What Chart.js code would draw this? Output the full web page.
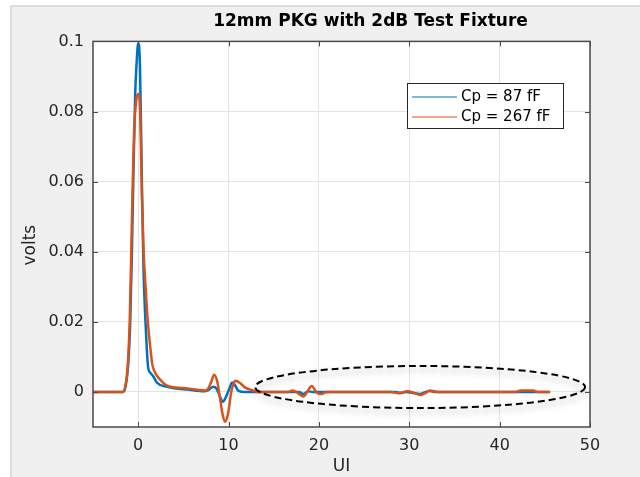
<!DOCTYPE html>
<html><head><meta charset="utf-8">
<script src="https://cdn.jsdelivr.net/npm/chart.js@4/dist/chart.umd.min.js"></script>
<style>html,body{margin:0;padding:0;background:#fff}#wrap{width:640px;height:477px}</style>
</head><body><div id="wrap"><canvas id="c" width="640" height="477"></canvas></div>
<script>
// ---- data ----
const seriesLabels = ['Cp = 87 fF', 'Cp = 267 fF'];

const xBlue = [-5, -1.7, -1.45, -1.1, -0.88, -0.7, -0.52, -0.33, -0.17, 0, 0.2, 0.41, 0.59, 0.77, 0.96, 1.1, 1.33, 1.66, 2.1, 3.2, 5.7, 7.3, 7.8, 8.3, 8.65, 9.0, 9.37, 9.7, 10.1, 10.4, 10.7, 11.1, 11.8, 17.8, 18.3, 18.8, 19.3, 28.5, 29.0, 29.6, 30.3, 31.2, 32.2, 33.0, 45.5];
const yBlue = [0, 0, 0.001, 0.008, 0.02, 0.039, 0.063, 0.085, 0.094, 0.0995, 0.093, 0.06, 0.035, 0.022, 0.012, 0.007, 0.0055, 0.0045, 0.0026, 0.0015, 0.0006, 0.0002, 0.0006, 0.0015, 0.001, -0.001, -0.0028, -0.0015, 0.001, 0.0027, 0.002, 0.0003, 0, 0, -0.0006, 0.0002, 0, 0, -0.0003, 0, -0.0002, -0.0006, 0.0003, 0, 0];

const xOrange = [-5, -1.7, -1.33, -1.1, -0.94, -0.77, -0.6, -0.44, -0.22, 0, 0.22, 0.41, 0.6, 0.77, 0.96, 1.1, 1.33, 1.55, 1.88, 2.43, 3.2, 5.0, 6.5, 7.4, 7.75, 8.1, 8.4, 8.75, 9.07, 9.35, 9.6, 9.96, 10.3, 10.6, 10.8, 11.3, 11.8, 12.6, 13.3, 16.6, 17.1, 17.5, 18.3, 18.7, 19.2, 19.8, 20.3, 20.8, 28.0, 28.8, 29.8, 30.5, 31.2, 31.8, 32.3, 33.2, 41.8, 42.3, 43.7, 44.2, 45.6];
const yOrange = [0, 0, 0.003, 0.01, 0.02, 0.04, 0.06, 0.075, 0.083, 0.085, 0.08, 0.056, 0.04, 0.032, 0.024, 0.019, 0.013, 0.008, 0.0055, 0.0035, 0.0018, 0.0011, 0.0006, 0.0004, 0.001, 0.003, 0.0049, 0.003, -0.002, -0.0065, -0.0085, -0.006, 0, 0.0027, 0.0032, 0.0025, 0.0013, 0.0005, 0, 0, 0.0004, 0, -0.0013, 0, 0.0017, -0.0003, -0.0006, 0, 0, -0.0004, 0.0002, -0.0002, -0.0009, -0.0003, 0.0004, 0, 0, 0.0004, 0.0004, 0, 0];

const xTicks = [0, 10, 20, 30, 40, 50];
const yTicks = [0, 0.02, 0.04, 0.06, 0.08, 0.1];
const yTickLabels = ['0', '0.02', '0.04', '0.06', '0.08', '0.1'];

// annotation ellipse (data units)
const ellipseCenter = {x: 31.2, y: 0.0014};
const ellipseRadius = {x: 18.25, y: 0.006};

// ---- styling ----
const FONT = "'DejaVu Sans', sans-serif";
const AX = '#262626';
const toPts = (xs, ys) => xs.map((x, i) => ({x, y: ys[i]}));

const bgPlugin = {
  id: 'bg',
  afterLayout(chart) {
    // shift title to the right like the reference
    if (chart.titleBlock) { chart.titleBlock.left += 29; chart.titleBlock.right += 29; }
    const ys = chart.scales.y;
    if (ys && !ys._shiftedTitle) {
      const orig = ys.drawTitle;
      ys.drawTitle = function () { const c = this.ctx; c.save(); c.translate(0, 11); orig.call(this); c.restore(); };
      ys._shiftedTitle = true;
    }
  },
  beforeDraw(chart) {
    const c = chart.ctx, a = chart.chartArea;
    c.save();
    c.fillStyle = '#ffffff';
    c.fillRect(0, 0, chart.width, chart.height);
    c.fillStyle = '#dcdcdc';
    c.fillRect(10, 5, chart.width - 10, chart.height - 5);
    c.fillStyle = '#f0f0f0';
    c.fillRect(12, 7, chart.width - 12, chart.height - 7);
    c.fillStyle = '#ffffff';
    c.fillRect(a.left, a.top, a.right - a.left, a.bottom - a.top);
    c.restore();
  }
};

const framePlugin = {
  id: 'frame',
  afterDatasetsDraw(chart) {
    const c = chart.ctx, a = chart.chartArea;
    const xs = chart.scales.x, ys = chart.scales.y;
    // ellipse annotation
    const cx = xs.getPixelForValue(ellipseCenter.x), cy = ys.getPixelForValue(ellipseCenter.y);
    const rx = xs.getPixelForValue(ellipseCenter.x + ellipseRadius.x) - cx;
    const ry = cy - ys.getPixelForValue(ellipseCenter.y + ellipseRadius.y);
    c.save();
    c.shadowColor = 'rgba(0,0,0,0.35)';
    c.shadowBlur = 7;
    c.shadowOffsetY = 4;
    c.setLineDash([7, 4]);
    c.lineWidth = 2;
    c.strokeStyle = '#000';
    c.beginPath();
    c.ellipse(cx, cy, rx, ry, 0, 0, Math.PI * 2);
    c.stroke();
    c.restore();
    // box + inward ticks
    c.save();
    c.strokeStyle = '#4a4a4a';
    c.lineWidth = 1.5;
    c.strokeRect(a.left, a.top, a.right - a.left, a.bottom - a.top);
    c.lineWidth = 1;
    c.beginPath();
    xTicks.forEach(v => {
      const p = Math.round(xs.getPixelForValue(v)) + 0.5;
      c.moveTo(p, a.bottom); c.lineTo(p, a.bottom - 5);
      c.moveTo(p, a.top); c.lineTo(p, a.top + 5);
    });
    yTicks.forEach(v => {
      const p = Math.round(ys.getPixelForValue(v)) + 0.5;
      c.moveTo(a.left, p); c.lineTo(a.left + 5, p);
      c.moveTo(a.right, p); c.lineTo(a.right - 5, p);
    });
    c.stroke();
    c.restore();
    // legend
    const lx = 407, ly = 83, lw = 156, lh = 45;
    c.save();
    c.fillStyle = '#fff';
    c.fillRect(lx, ly, lw, lh);
    c.strokeStyle = AX;
    c.lineWidth = 1;
    c.strokeRect(lx + 0.5, ly + 0.5, lw, lh);
    c.font = '15px ' + FONT;
    c.textBaseline = 'middle';
    c.textAlign = 'left';
    chart.data.datasets.forEach((ds, i) => {
      const yy = ly + 14 + i * 20;
      c.strokeStyle = ds.borderColor;
      c.lineWidth = 1.2;
      c.beginPath();
      c.moveTo(lx + 5, yy); c.lineTo(lx + 50, yy);
      c.stroke();
      c.fillStyle = '#000';
      c.fillText(ds.label, lx + 54, yy);
    });
    c.restore();
  }
};

new Chart(document.getElementById('c'), {
  type: 'line',
  data: {
    datasets: [
      {label: seriesLabels[0], data: toPts(xBlue, yBlue), borderColor: '#0072BD', borderWidth: 2.5, pointRadius: 0, cubicInterpolationMode: 'monotone', order: 2},
      {label: seriesLabels[1], data: toPts(xOrange, yOrange), borderColor: '#D95319', borderWidth: 2.5, pointRadius: 0, cubicInterpolationMode: 'monotone', order: 1}
    ]
  },
  options: {
    responsive: false,
    animation: false,
    layout: {padding: {left: 0, right: 50, top: 0, bottom: 0}},
    plugins: {
      legend: {display: false},
      tooltip: {enabled: false},
      title: {display: true, text: '12mm PKG with 2dB Test Fixture', fullSize: false, color: '#000',
        font: {family: FONT, size: 17, weight: 'bold'}, padding: {top: 11, bottom: 10}}
    },
    scales: {
      x: {
        type: 'linear', min: -5, max: 50,
        afterBuildTicks: s => { s.ticks = xTicks.map(v => ({value: v})); },
        afterFit: s => { s.height = 50; },
        ticks: {font: {family: FONT, size: 16}, color: AX, padding: 9, maxRotation: 0},
        grid: {color: '#e3e3e3', drawTicks: false},
        border: {display: false},
        title: {display: true, text: 'UI', color: AX, font: {family: FONT, size: 17}, padding: {top: 0, bottom: 0}}
      },
      y: {
        type: 'linear', min: -0.01, max: 0.1,
        afterBuildTicks: s => { s.ticks = yTicks.map(v => ({value: v})); },
        afterFit: s => { s.width = 93; },
        ticks: {font: {family: FONT, size: 16}, color: AX, padding: 9, callback: (v, i) => yTickLabels[i]},
        grid: {color: '#e3e3e3', drawTicks: false},
        border: {display: false},
        title: {display: true, text: 'volts', color: AX, font: {family: FONT, size: 17}, padding: {top: 20, bottom: 0}}
      }
    }
  },
  plugins: [bgPlugin, framePlugin]
});
</script>
</body></html>
